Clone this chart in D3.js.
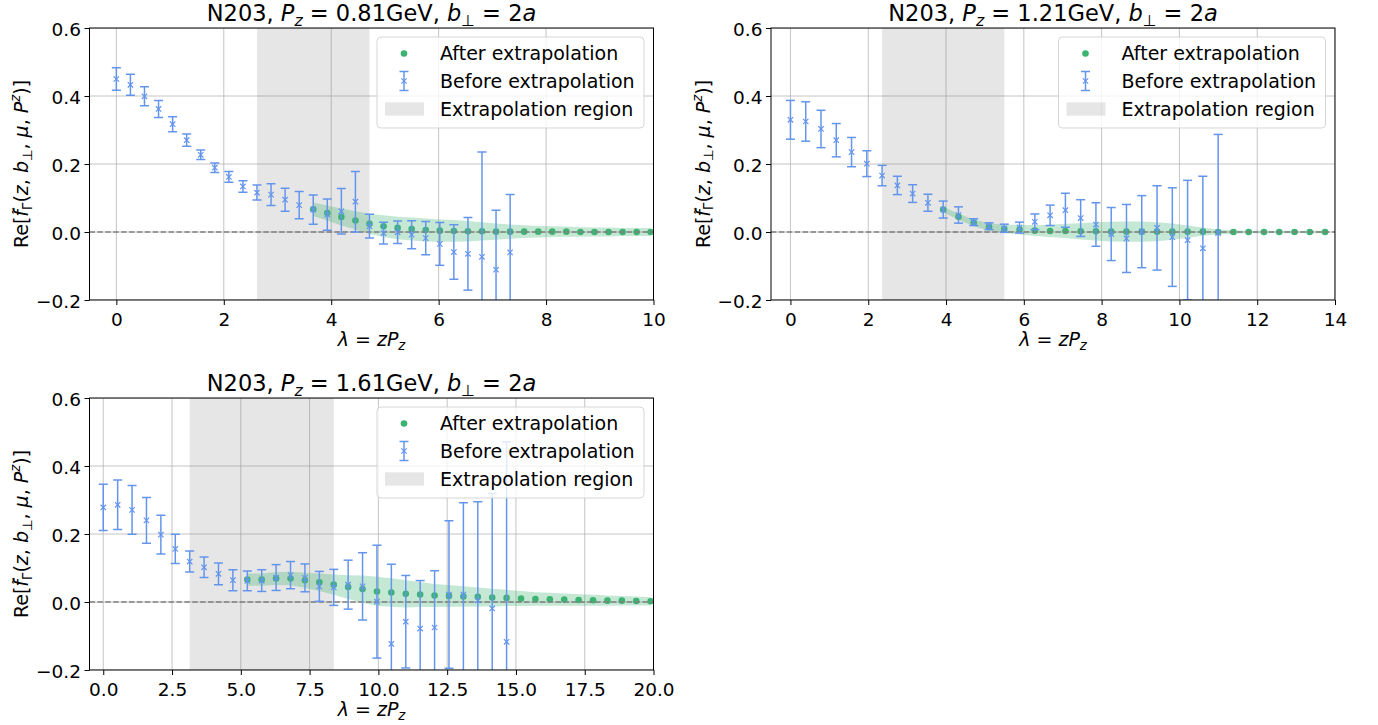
<!DOCTYPE html>
<html>
<head>
<meta charset="utf-8">
<script src="https://cdn.jsdelivr.net/npm/d3@7"></script>
<style>
  body { margin: 0; background: #fff; }
  svg text { font-family: "DejaVu Sans", sans-serif; fill: #000; }
</style>
</head>
<body>
<svg id="fig" width="1378" height="725"></svg>
<script>
// ---- lattice setup: lambda = z * P_z, with P_z = 2*pi*n/(L a) ----
const latticeL = 48;
const momentumUnits = [2, 3, 4];
const pzLabels = ['0.81', '1.21', '1.61'];

// ---- axis ticks ----
const yTicks = [-0.2, 0.0, 0.2, 0.4, 0.6];
const xTicksA = [0, 2, 4, 6, 8, 10];
const xTicksB = [0, 2, 4, 6, 8, 10, 12, 14];
const xTicksC = [0, 2.5, 5, 7.5, 10, 12.5, 15, 17.5, 20];
const xMaxes = [10, 14, 20];

// ---- extrapolation windows (in units of z/a) and first extrapolated z ----
const regionA = [10, 18];
const regionB = [6, 14];
const regionC = [6, 16];
const firstExtrap = [14, 10, 10];

// ---- P_z = 0.81 GeV ----
const beforeA = [0.450, 0.433, 0.399, 0.362, 0.317, 0.270, 0.227, 0.189, 0.162, 0.134,
  0.116, 0.110, 0.095, 0.079, 0.066, 0.051, 0.061, 0.089, 0.017, -0.003,
  -0.001, -0.008, -0.018, -0.035, -0.059, -0.064, -0.073, -0.111, -0.060];
const beforeErrA = [0.033, 0.031, 0.028, 0.025, 0.022, 0.018, 0.014, 0.014, 0.016, 0.017,
  0.022, 0.032, 0.034, 0.040, 0.043, 0.046, 0.067, 0.089, 0.035, 0.032,
  0.033, 0.041, 0.049, 0.063, 0.080, 0.107, 0.308, 0.175, 0.170];
const afterA = [0.067, 0.056, 0.044, 0.034, 0.024, 0.017, 0.012, 0.009, 0.006, 0.004,
  0.003, 0.002, 0.002, 0.001, 0.001, 0.001, 0.001, 0.001, 0.001, 0.0,
  0.0, 0.0, 0.0, 0.0, 0.0];
const afterErrA = [0.020, 0.022, 0.025, 0.027, 0.030, 0.032, 0.033, 0.034, 0.034, 0.033,
  0.032, 0.030, 0.027, 0.024, 0.021, 0.019, 0.017, 0.016, 0.015, 0.014,
  0.013, 0.013, 0.012, 0.012, 0.012];

// ---- P_z = 1.21 GeV ----
const beforeB = [0.330, 0.325, 0.303, 0.270, 0.235, 0.201, 0.166, 0.137, 0.113, 0.086,
  0.066, 0.050, 0.029, 0.017, 0.011, 0.013, 0.030, 0.049, 0.064, 0.041,
  0.022, -0.006, -0.019, 0.001, 0.012, -0.015, -0.024, -0.048, -0.003];
const beforeErrB = [0.057, 0.058, 0.055, 0.049, 0.043, 0.038, 0.030, 0.027, 0.026, 0.025,
  0.025, 0.024, 0.010, 0.010, 0.012, 0.016, 0.023, 0.030, 0.050, 0.054,
  0.064, 0.078, 0.100, 0.106, 0.124, 0.145, 0.176, 0.212, 0.290];
const afterB = [0.066, 0.045, 0.027, 0.015, 0.009, 0.007, 0.004, 0.003, 0.003, 0.002,
  0.002, 0.001, 0.001, 0.001, 0.001, 0.001, 0.001, 0.001, 0.0, 0.0,
  0.0, 0.0, 0.0, 0.0, 0.0, 0.0];
const afterErrB = [0.008, 0.009, 0.010, 0.011, 0.012, 0.014, 0.016, 0.018, 0.021, 0.024,
  0.027, 0.029, 0.030, 0.030, 0.028, 0.024, 0.018, 0.012, 0.007, 0.005,
  0.004, 0.004, 0.004, 0.004, 0.004, 0.004];

// ---- P_z = 1.61 GeV ----
const beforeC = [0.278, 0.286, 0.271, 0.240, 0.198, 0.156, 0.119, 0.102, 0.083, 0.064,
  0.062, 0.063, 0.072, 0.079, 0.071, 0.046, 0.043, 0.051, 0.046, 0.001,
  -0.123, -0.058, -0.078, -0.075, 0.022, 0.022, 0.005, -0.019, -0.117];
const beforeErrC = [0.068, 0.073, 0.072, 0.067, 0.057, 0.043, 0.031, 0.030, 0.032, 0.031,
  0.029, 0.032, 0.038, 0.040, 0.041, 0.044, 0.053, 0.072, 0.099, 0.166,
  0.234, 0.136, 0.141, 0.167, 0.217, 0.270, 0.290, 0.338, 0.588];
const afterC = [0.066, 0.066, 0.069, 0.069, 0.064, 0.058, 0.051, 0.044, 0.038, 0.031,
  0.028, 0.024, 0.022, 0.019, 0.018, 0.016, 0.015, 0.013, 0.012, 0.010,
  0.009, 0.008, 0.007, 0.006, 0.005, 0.004, 0.004, 0.003, 0.002];
const afterErrC = [0.018, 0.018, 0.019, 0.020, 0.022, 0.026, 0.030, 0.035, 0.040, 0.043,
  0.042, 0.040, 0.037, 0.034, 0.032, 0.030, 0.028, 0.026, 0.024, 0.022,
  0.020, 0.019, 0.018, 0.017, 0.016, 0.015, 0.014, 0.013, 0.012];

const legendLabels = ['After extrapolation', 'Before extrapolation', 'Extrapolation region'];

// ---- styling ----
const BLUE = '#6495ed';
const GREEN = '#3cb371';
const FS = 18.5;      // tick labels
const LFS = 19;       // legend and axis labels
const TFS = 22.5;     // titles
const W = 564, H = 272;

const panels = [
  { left: 89.5, top: 28, n: momentumUnits[0], pz: pzLabels[0], xmax: xMaxes[0], xticks: xTicksA, fmt: d3.format('d'),
    region: regionA, z0: firstExtrap[0], before: beforeA, beforeErr: beforeErrA, after: afterA, afterErr: afterErrA },
  { left: 771, top: 28, n: momentumUnits[1], pz: pzLabels[1], xmax: xMaxes[1], xticks: xTicksB, fmt: d3.format('d'),
    region: regionB, z0: firstExtrap[1], before: beforeB, beforeErr: beforeErrB, after: afterB, afterErr: afterErrB },
  { left: 89.5, top: 398, n: momentumUnits[2], pz: pzLabels[2], xmax: xMaxes[2], xticks: xTicksC, fmt: d3.format('.1f'),
    region: regionC, z0: firstExtrap[2], before: beforeC, beforeErr: beforeErrC, after: afterC, afterErr: afterErrC }
];

const svg = d3.select('#fig');
const minusFmt = v => d3.format('.1f')(v).replace('-', '\u2212');

// text with italic / sub / superscript pieces
function rich(sel, parts, fs) {
  let off = 0;
  parts.forEach(q => {
    const ts = sel.append('tspan').text(q.t);
    const o = (q.off || 0) * fs;
    if (o !== off) ts.attr('dy', (o - off).toFixed(2));
    off = o;
    if (q.dx) ts.attr('dx', (q.dx * fs).toFixed(2));
    if (q.it) ts.style('font-style', 'italic');
    if (q.sz) ts.style('font-size', (q.sz * fs).toFixed(2) + 'px');
  });
}

panels.forEach((p, i) => {
  const step = 2 * Math.PI * p.n / latticeL;
  const x = d3.scaleLinear().domain([-0.5, p.xmax]).range([0, W]);
  const y = d3.scaleLinear().domain([-0.2, 0.6]).range([H, 0]);

  const beforeData = p.before.map((v, z) => ({ lam: z * step, v, e: p.beforeErr[z] }));
  const afterData = p.after.map((v, k) => ({ lam: (p.z0 + k) * step, v, e: p.afterErr[k] }));

  const g = svg.append('g').attr('transform', `translate(${p.left},${p.top})`);
  g.append('clipPath').attr('id', 'clip' + i)
    .append('rect').attr('width', W).attr('height', H);
  const plot = g.append('g').attr('clip-path', `url(#clip${i})`);

  // grid
  plot.append('g').selectAll('line').data(p.xticks).join('line')
    .attr('x1', d => x(d)).attr('x2', d => x(d)).attr('y1', 0).attr('y2', H)
    .attr('stroke', '#b0b0b0').attr('stroke-opacity', 0.75).attr('stroke-width', 1);
  plot.append('g').selectAll('line').data(yTicks).join('line')
    .attr('y1', d => y(d)).attr('y2', d => y(d)).attr('x1', 0).attr('x2', W)
    .attr('stroke', '#b0b0b0').attr('stroke-opacity', 0.75).attr('stroke-width', 1);

  // extrapolation window
  plot.append('rect')
    .attr('x', x(p.region[0] * step)).attr('width', x(p.region[1] * step) - x(p.region[0] * step))
    .attr('y', 0).attr('height', H)
    .attr('fill', '#808080').attr('fill-opacity', 0.2);

  // uncertainty band of the extrapolated result
  plot.append('path').datum(afterData)
    .attr('d', d3.area().x(d => x(d.lam)).y0(d => y(d.v - d.e)).y1(d => y(d.v + d.e)))
    .attr('fill', GREEN).attr('fill-opacity', 0.3);

  // extrapolated points
  plot.append('g').selectAll('circle').data(afterData).join('circle')
    .attr('cx', d => x(d.lam)).attr('cy', d => y(d.v)).attr('r', 3.3)
    .attr('fill', GREEN);

  // zero line
  plot.append('line').attr('x1', 0).attr('x2', W).attr('y1', y(0)).attr('y2', y(0))
    .attr('stroke', '#808080').attr('stroke-width', 1.4).attr('stroke-dasharray', '5.5,2.4');

  // lattice data with error bars
  const eb = plot.append('g').selectAll('g').data(beforeData).join('g')
    .attr('stroke', BLUE).attr('fill', 'none');
  eb.append('line').attr('x1', d => x(d.lam)).attr('x2', d => x(d.lam))
    .attr('y1', d => y(d.v - d.e)).attr('y2', d => y(d.v + d.e)).attr('stroke-width', 1.5);
  eb.append('line').attr('x1', d => x(d.lam) - 4.5).attr('x2', d => x(d.lam) + 4.5)
    .attr('y1', d => y(d.v + d.e)).attr('y2', d => y(d.v + d.e)).attr('stroke-width', 1.5);
  eb.append('line').attr('x1', d => x(d.lam) - 4.5).attr('x2', d => x(d.lam) + 4.5)
    .attr('y1', d => y(d.v - d.e)).attr('y2', d => y(d.v - d.e)).attr('stroke-width', 1.5);
  eb.append('path')
    .attr('d', d => {
      const cx = x(d.lam), cy = y(d.v), s = 2.7;
      return `M${cx - s},${cy - s}L${cx + s},${cy + s}M${cx - s},${cy + s}L${cx + s},${cy - s}`;
    })
    .attr('stroke-width', 1.2);

  // axes
  const ax = g.append('g').attr('transform', `translate(0,${H})`)
    .call(d3.axisBottom(x).tickValues(p.xticks).tickFormat(p.fmt).tickSize(5).tickPadding(7.5).tickSizeOuter(0));
  const ay = g.append('g')
    .call(d3.axisLeft(y).tickValues(yTicks).tickFormat(minusFmt).tickSize(5).tickPadding(3.5).tickSizeOuter(0));
  [ax, ay].forEach(a => {
    a.select('.domain').remove();
    a.selectAll('.tick line').attr('stroke', '#000').attr('stroke-width', 1);
    a.selectAll('.tick text').style('font-size', FS + 'px').style('font-family', '"DejaVu Sans", sans-serif');
  });
  ay.selectAll('.tick text').attr('dy', '0.42em');

  // frame
  g.append('rect').attr('width', W).attr('height', H)
    .attr('fill', 'none').attr('stroke', '#000').attr('stroke-width', 1);

  // title
  const title = g.append('text').attr('x', W / 2).attr('y', -7).attr('text-anchor', 'middle')
    .style('font-size', TFS + 'px');
  rich(title, [
    { t: 'N203, ' }, { t: 'P', it: 1 }, { t: 'z', it: 1, off: 0.2, sz: 0.7 },
    { t: ' = ' + p.pz + 'GeV, ' }, { t: 'b', it: 1 }, { t: '\u22a5', off: 0.2, sz: 0.7 },
    { t: ' = 2' }, { t: 'a', it: 1 }
  ], TFS);

  // x label
  const xl = g.append('text').attr('x', W / 2).attr('y', H + 46).attr('text-anchor', 'middle')
    .style('font-size', LFS + 'px');
  rich(xl, [{ t: '\u03bb', it: 1 }, { t: ' = ' }, { t: 'zP', it: 1 }, { t: 'z', it: 1, off: 0.2, sz: 0.7 }], LFS);

  // y label
  const yl = g.append('text')
    .attr('transform', `translate(${28 - 89.5},${H / 2}) rotate(-90)`)
    .attr('text-anchor', 'middle').style('font-size', LFS + 'px');
  rich(yl, [
    { t: 'Re[' }, { t: 'f', it: 1 },
    { t: '\u02dc', dx: -0.26, off: -0.2, sz: 0.85 },
    { t: '\u0393', dx: -0.17, off: 0.2, sz: 0.7 },
    { t: '(' }, { t: 'z', it: 1 }, { t: ', ' }, { t: 'b', it: 1 },
    { t: '\u22a5', off: 0.2, sz: 0.7 }, { t: ', ' }, { t: '\u03bc', it: 1 }, { t: ', ' },
    { t: 'P', it: 1 }, { t: 'z', it: 1, off: -0.4, sz: 0.7 }, { t: ')]' }
  ], LFS);

  // legend
  const lw = 267, lh = 91;
  const lg = g.append('g').attr('transform', `translate(${W - 9.5 - lw},9)`);
  lg.append('rect').attr('width', lw).attr('height', lh).attr('rx', 4)
    .attr('fill', '#fff').attr('fill-opacity', 0.8)
    .attr('stroke', '#cccccc').attr('stroke-opacity', 0.8).attr('stroke-width', 1);
  const rows = [16.5, 44, 72];
  const hx = 27;
  lg.append('circle').attr('cx', hx).attr('cy', rows[0]).attr('r', 3.3).attr('fill', GREEN);
  const h2 = lg.append('g').attr('stroke', BLUE).attr('fill', 'none');
  h2.append('line').attr('x1', hx).attr('x2', hx).attr('y1', rows[1] - 9.5).attr('y2', rows[1] + 9.5).attr('stroke-width', 1.5);
  h2.append('line').attr('x1', hx - 4.5).attr('x2', hx + 4.5).attr('y1', rows[1] - 9.5).attr('y2', rows[1] - 9.5).attr('stroke-width', 1.5);
  h2.append('line').attr('x1', hx - 4.5).attr('x2', hx + 4.5).attr('y1', rows[1] + 9.5).attr('y2', rows[1] + 9.5).attr('stroke-width', 1.5);
  h2.append('path').attr('d', `M${hx - 2.7},${rows[1] - 2.7}L${hx + 2.7},${rows[1] + 2.7}M${hx - 2.7},${rows[1] + 2.7}L${hx + 2.7},${rows[1] - 2.7}`)
    .attr('stroke-width', 1.2);
  lg.append('rect').attr('x', 8).attr('y', rows[2] - 6.7).attr('width', 39).attr('height', 13.4)
    .attr('fill', '#808080').attr('fill-opacity', 0.2);
  lg.selectAll('text.lab').data(legendLabels).join('text').attr('class', 'lab')
    .attr('x', 63).attr('y', (d, k) => rows[k] + 6.8)
    .style('font-size', LFS + 'px').text(d => d);
});
</script>
</body>
</html>
